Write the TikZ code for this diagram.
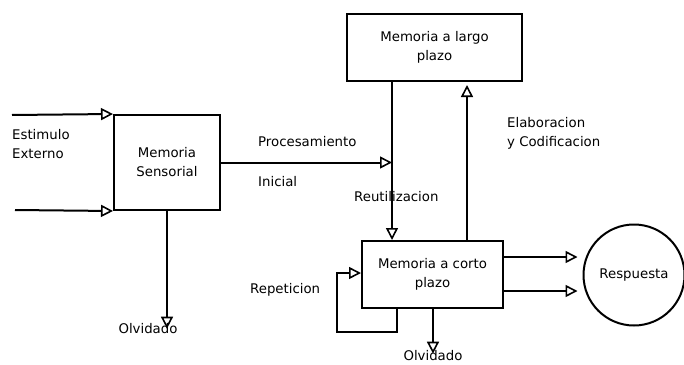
\documentclass[tikz,border=0pt]{standalone}
\usepackage{fontspec}
\setmainfont{DejaVu Sans}
\usetikzlibrary{arrows.meta}
\begin{document}
\begin{tikzpicture}[x=1pt,y=-1pt,
  every node/.style={font=\fontsize{13.3}{19}\selectfont, inner sep=0pt},
  boxnode/.style={draw, line width=2pt, minimum width=#1},
  conn/.style={line width=2pt, -{Triangle[open, length=12pt, width=12pt, line width=1.6pt]}},
  lbl/.style={anchor=west, align=left}]
\useasboundingbox (0,0) rectangle (684,364);
\fill[white] (0,0) rectangle (684,364);

\node[boxnode=106pt, minimum height=95pt, align=center] (sens) at (167,162.5) {Memoria\\Sensorial};
\node[boxnode=175pt, minimum height=67pt, align=center] (ltm) at (434.5,47.5) {Memoria a largo\\plazo};
\node[boxnode=141pt, minimum height=67pt, align=center] (stm) at (432.5,274.5) {Memoria a corto\\plazo};
\node[draw, circle, line width=2pt, minimum size=101pt] (resp) at (634,275) {Respuesta};

\node[lbl] (estim) at (12,144) {Estimulo\\Externo};
\node[lbl] (proc) at (258,142) {Procesamiento};
\node[lbl] (inic) at (258,182) {Inicial};
\node[lbl] (reut) at (354,197) {Reutilizacion};
\node[lbl] (elab) at (507,133) {Elaboracion\\y Codificacion};
\node[lbl] (rep) at (250,290) {Repeticion};
\node (olv1) at (148,329) {Olvidado};
\node (olv2) at (433,356) {Olvidado};

\coordinate (in1) at (12,115);
\coordinate (in2) at (15,210);
\coordinate (lx) at (392,0);
\coordinate (ux) at (467,0);
\coordinate (o1) at (0,257);
\coordinate (o2) at (0,291);
\coordinate (rx) at (397,0);
\coordinate (ry) at (0,332);
\coordinate (lxx) at (337,0);
\coordinate (ly) at (0,273);
\coordinate (ox) at (433,0);

% inputs
\draw[conn] (in1) -- (sens.north west);
\draw[conn] (in2) -- (sens.south west);
% procesamiento inicial
\draw[conn] (sens.east) -- (lx |- sens.east);
% reutilizacion
\draw[conn] (lx |- ltm.south) -- (lx |- stm.north);
% elaboracion
\draw[conn] (ux |- stm.north) -- ([yshift=-3pt]ux |- ltm.south);
% olvidado sensorial
\draw[conn] (sens.south) -- ([yshift=-5pt]sens.south |- olv1.north);
% olvidado corto plazo
\draw[conn] (ox |- stm.south) -- ([yshift=-3pt]ox |- olv2.north);
% respuesta
\draw[conn, shorten >=5pt] (stm.east |- o1) -- (resp.west |- o1);
\draw[conn, shorten >=5pt] (stm.east |- o2) -- (resp.west |- o2);
% repeticion
\draw[conn] (rx |- stm.south) -- (rx |- ry) -- (lxx |- ry) -- (lxx |- ly) -- (stm.west |- ly);
\end{tikzpicture}
\end{document}
